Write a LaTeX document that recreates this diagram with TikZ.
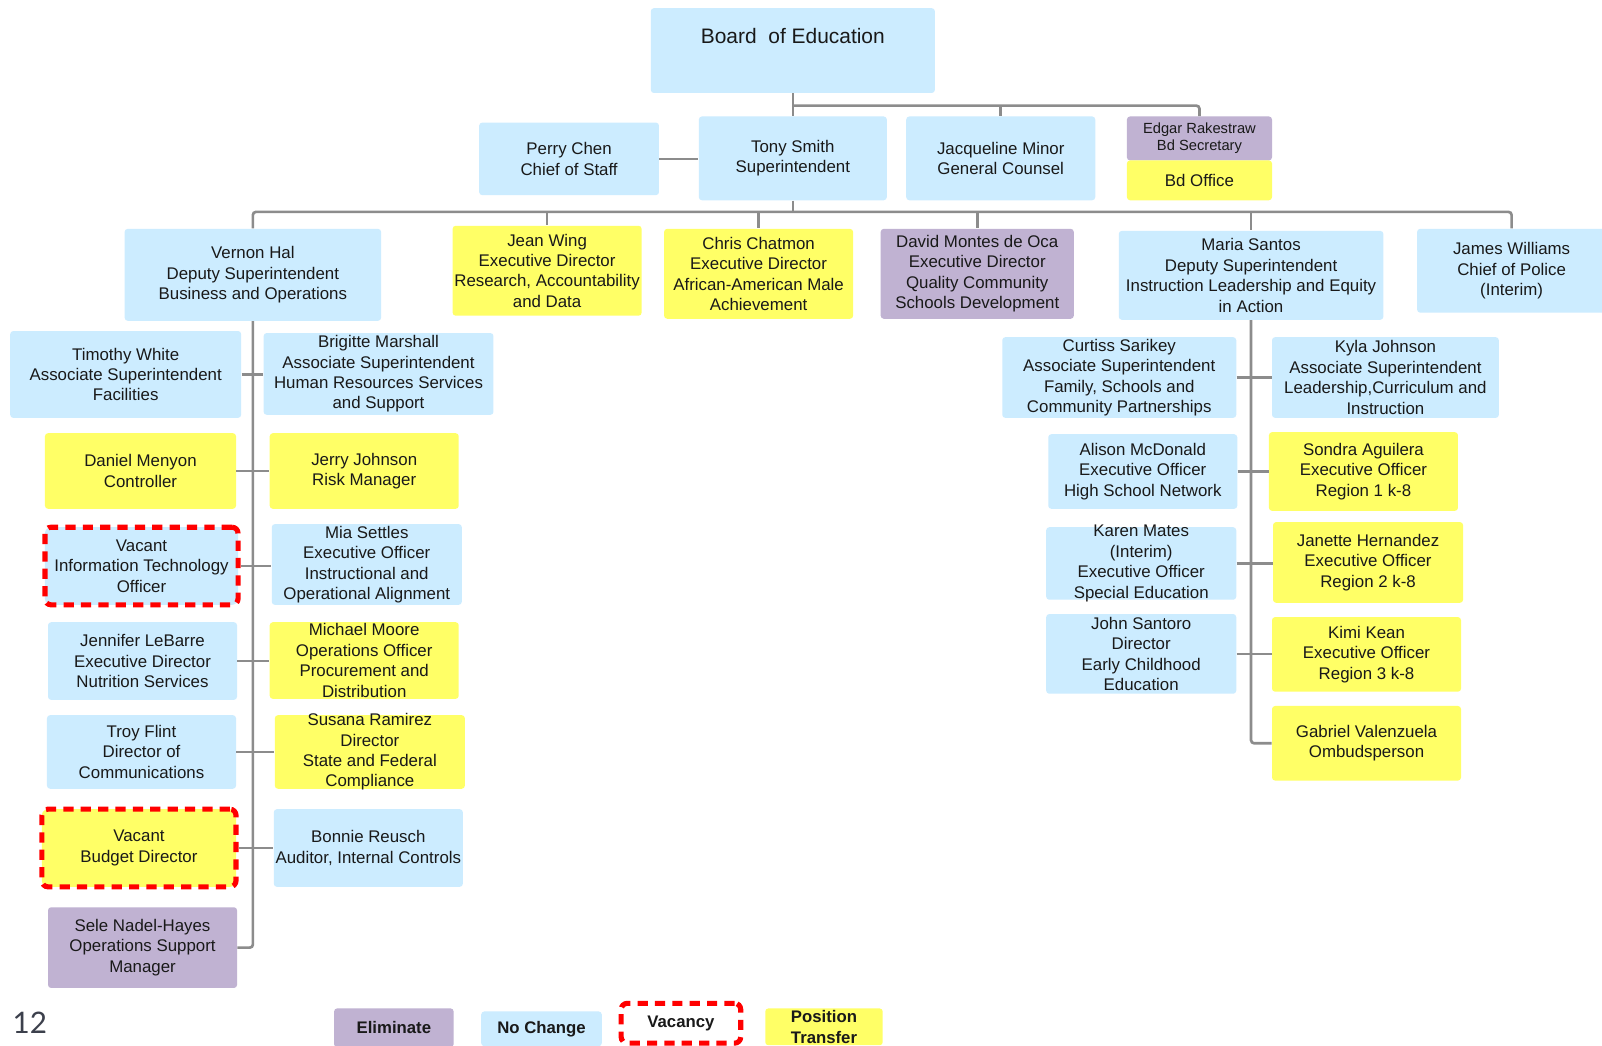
\documentclass[tikz,border=0pt]{standalone}
\usepackage{fontspec}
\setmainfont{Liberation Sans}
\newfontfamily\numfont{Lato}
\usetikzlibrary{calc}

\definecolor{keepblue}{RGB}{204,236,255}
\definecolor{moveyellow}{RGB}{255,255,102}
\definecolor{cutpurple}{RGB}{192,178,210}
\definecolor{linegray}{RGB}{140,140,140}
\definecolor{inkdark}{RGB}{25,25,25}
\definecolor{vacred}{RGB}{255,0,0}
\definecolor{pagegray}{RGB}{60,64,76}

\tikzset{
  base/.style={inner sep=0pt, rounded corners=1.5pt, draw=none},
  keep/.style={base, fill=keepblue},
  move/.style={base, fill=moveyellow},
  cut/.style={base, fill=cutpurple},
  blank/.style={base, fill=white},
  vacant/.style={draw=vacred, line width=2.5pt, dash pattern=on 5pt off 3.5pt, rounded corners=3pt},
  txt/.style={align=center, text=inkdark, font=\fontsize{8.25}{10}\selectfont, inner sep=0pt},
  legendtxt/.style={font=\bfseries\fontsize{8.2}{10}\selectfont},
  conn/.style={draw=linegray, line width=1.3pt, rounded corners=1.5pt},
}

% \orgbox[label options]{name}{style}{x1}{y1}{x2}{y2}{text}
\newcommand\orgbox[8][]{%
  \node[#3, minimum width={(#6-#4)*0.5pt}, minimum height={(#7-#5)*0.5pt},
        label={[txt,#1]center:{#8}}] (#2) at ({(#4+#6)/2},{(#5+#7)/2}) {};}

\begin{document}
\begin{tikzpicture}[x=0.5pt, y=-0.5pt]
\fill[white] (0,0) rectangle (1568,1023);
\useasboundingbox (0,0) rectangle (1568,1023);

% board and superintendent level
\orgbox[yshift=7.25pt, font=\fontsize{10.25}{12.3}\selectfont]{board}{keep}{637}{8}{915}{91}{Board~~of Education}
\orgbox{perry}{keep}{469}{120}{645}{191}{Perry Chen\\Chief of Staff}
\orgbox{tony}{keep}{684}{114}{868}{196}{Tony Smith\\Superintendent}
\orgbox{jac}{keep}{887}{114}{1072}{196}{Jacqueline Minor\\General Counsel}
\orgbox[font=\fontsize{7.2}{8.5}\selectfont]{edgar}{cut}{1103}{114}{1245}{157}{Edgar Rakestraw\\Bd Secretary}
\orgbox{bdoffice}{move}{1103}{157}{1245}{196}{Bd Office}

% direct reports
\orgbox{vernon}{keep}{122}{224}{373}{314}{Vernon Hal\\Deputy Superintendent\\Business and Operations}
\orgbox{jean}{move}{443}{221}{628}{309}{Jean Wing\\Executive Director\\Research, Accountability\\and Data}
\orgbox{chris}{move}{650}{224}{835}{312}{Chris Chatmon\\Executive Director\\African-American Male\\Achievement}
\orgbox{david}{cut}{862}{224}{1051}{312}{David Montes de Oca\\Executive Director\\Quality Community\\Schools Development}
\orgbox{maria}{keep}{1095}{226}{1354}{313}{Maria Santos\\Deputy Superintendent\\Instruction Leadership and Equity\\in Action}
\orgbox{james}{keep}{1387}{224}{1572}{306}{James Williams\\Chief of Police\\(Interim)}

% business and operations
\orgbox{timothy}{keep}{10}{324}{236}{409}{Timothy White\\Associate Superintendent\\Facilities}
\orgbox{brigitte}{keep}{258}{326}{483}{406}{Brigitte Marshall\\Associate Superintendent\\Human Resources Services\\and Support}
\orgbox{daniel}{move}{44}{424}{231}{498}{Daniel Menyon\\Controller}
\orgbox{jerry}{move}{264}{424}{449}{498}{Jerry Johnson\\Risk Manager}
\orgbox{itvac}{keep,vacant}{44}{516}{233}{592}{Vacant\\Information Technology\\Officer}
\orgbox{mia}{keep}{266}{513}{452}{592}{Mia Settles\\Executive Officer\\Instructional and\\Operational Alignment}
\orgbox{jennifer}{keep}{47}{609}{232}{685}{Jennifer LeBarre\\Executive Director\\Nutrition Services}
\orgbox{michael}{move}{264}{609}{449}{684}{Michael Moore\\Operations Officer\\Procurement and\\Distribution}
\orgbox{troy}{keep}{46}{700}{231}{772}{Troy Flint\\Director of\\Communications}
\orgbox{susana}{move}{269}{700}{455}{772}{Susana Ramirez\\Director\\State and Federal\\Compliance}
\orgbox{budvac}{move,vacant}{41}{792}{231}{868}{Vacant\\Budget Director}
\orgbox{bonnie}{keep}{268}{792}{453}{868}{Bonnie Reusch\\Auditor, Internal Controls}
\orgbox{sele}{cut}{47}{888}{232}{967}{Sele Nadel-Hayes\\Operations Support\\Manager}

% instruction leadership
\orgbox{curtiss}{keep}{981}{330}{1210}{409}{Curtiss Sarikey\\Associate Superintendent\\Family, Schools and\\Community Partnerships}
\orgbox{kyla}{keep}{1245}{330}{1467}{409}{Kyla Johnson\\Associate Superintendent\\Leadership,Curriculum and\\Instruction}
\orgbox{alison}{keep}{1026}{425}{1211}{498}{Alison McDonald\\Executive Officer\\High School Network}
\orgbox{sondra}{move}{1242}{423}{1427}{500}{Sondra Aguilera\\Executive Officer\\Region 1 k-8}
\orgbox{karen}{keep}{1024}{516}{1210}{587}{Karen Mates\\(Interim)\\Executive Officer\\Special Education}
\orgbox{janette}{move}{1246}{511}{1432}{590}{Janette Hernandez\\Executive Officer\\Region 2 k-8}
\orgbox{john}{keep}{1024}{601}{1210}{679}{John Santoro\\Director\\Early Childhood\\Education}
\orgbox{kimi}{move}{1245}{604}{1430}{677}{Kimi Kean\\Executive Officer\\Region 3 k-8}
\orgbox{gabriel}{move}{1245}{691}{1430}{764}{Gabriel Valenzuela\\Ombudsperson}

% legend
\orgbox[legendtxt]{elim}{cut}{327}{987}{444}{1025}{Eliminate}
\orgbox[legendtxt]{nochange}{keep}{471}{990}{589}{1024}{No Change}
\orgbox[legendtxt]{vacancy}{blank,vacant}{608}{982}{725}{1021}{Vacancy}
\orgbox[legendtxt]{transfer}{move}{749}{987}{864}{1023}{Position\\Transfer}

% page number
\node[anchor=base west, inner sep=0pt, text=pagegray, font=\numfont\fontsize{14.5}{14.5}\selectfont] (pagenum) at (12,1012) {12};

% connectors: board level
\coordinate (bbar) at ($(board.south)+(0,12)$);
\draw[conn] (board.south) -- (tony.north);
\draw[conn] (bbar) -| (edgar.north);
\draw[conn] (bbar -| jac.north) -- (jac.north);
\draw[conn] (perry.east) -- (perry.east -| tony.west);

% connectors: superintendent to direct reports
\draw[conn] (tony.south) -- ++(0,11) coordinate (bar);
\draw[conn] (vernon.north) |- (bar) -| (james.north);
\foreach \n in {jean,chris,david,maria}
  \draw[conn] (bar -| \n.north) -- (\n.north);

% connectors: business and operations
\draw[conn] (vernon.south) |- (sele.east);
\foreach \a/\b in {timothy/brigitte, daniel/jerry, itvac/mia, jennifer/michael, troy/susana, budvac/bonnie}
  \draw[conn] (\a.east) -- (\a.east -| \b.west);

% connectors: instruction leadership
\draw[conn] (maria.south) |- (gabriel.west);
\foreach \a/\b in {curtiss/kyla, alison/sondra, karen/janette, john/kimi}
  \draw[conn] (\a.east) -- (\a.east -| \b.west);
\end{tikzpicture}
\end{document}
